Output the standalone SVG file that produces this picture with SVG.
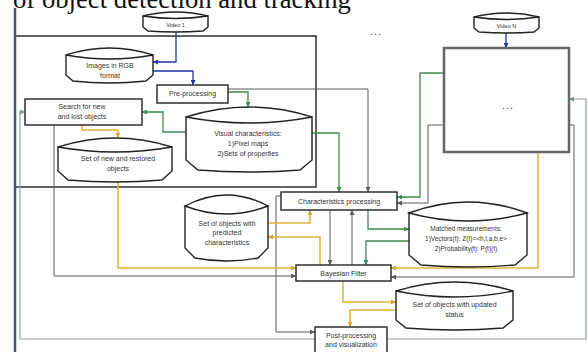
<svg xmlns="http://www.w3.org/2000/svg" width="588" height="352" viewBox="0 0 588 352">
<style>
.t{font-family:"Liberation Sans",Arial,sans-serif;font-size:7px;fill:#333;text-anchor:middle}
.s{font-size:5.5px}
.m{font-size:6.5px}
.dots{font-family:"Liberation Sans",Arial,sans-serif;font-size:11px;fill:#444;text-anchor:middle;letter-spacing:1px}
.shape{fill:#fff;stroke:#222;stroke-width:1.4}
.c{fill:none;stroke-width:1.3}
.blue{stroke:#2435a8}
.green{stroke:#3f8a50}
.gray{stroke:#5a5a5a;stroke-width:1}
.yellow{stroke:#e2b23c;stroke-width:1.6}
.light{stroke:#93a3ad;stroke-width:1.2}
</style>
<defs>
<marker id="ab" viewBox="0 0 10 10" refX="10" refY="5" markerWidth="5" markerHeight="5" markerUnits="userSpaceOnUse" orient="auto"><path d="M0,0L10,5L0,10z" fill="#2435a8"/></marker>
<marker id="ag" viewBox="0 0 10 10" refX="10" refY="5" markerWidth="5" markerHeight="5" markerUnits="userSpaceOnUse" orient="auto"><path d="M0,0L10,5L0,10z" fill="#3f8a50"/></marker>
<marker id="ak" viewBox="0 0 10 10" refX="10" refY="5" markerWidth="5" markerHeight="5" markerUnits="userSpaceOnUse" orient="auto"><path d="M0,0L10,5L0,10z" fill="#5a5a5a"/></marker>
<marker id="ay" viewBox="0 0 10 10" refX="10" refY="5" markerWidth="5" markerHeight="5" markerUnits="userSpaceOnUse" orient="auto"><path d="M0,0L10,5L0,10z" fill="#d9a52c"/></marker>
<marker id="al" viewBox="0 0 10 10" refX="10" refY="5" markerWidth="5" markerHeight="5" markerUnits="userSpaceOnUse" orient="auto"><path d="M0,0L10,5L0,10z" fill="#7d8f9b"/></marker>
</defs>
<rect width="588" height="352" fill="#fff"/>
<text x="13" y="8" font-family="Liberation Serif,serif" font-size="26.7" fill="#111">of object detection and tracking</text>

<g id="frame">
<rect x="15" y="36" width="301" height="151" fill="none" stroke="#222" stroke-width="1.4"/>
<line x1="15" y1="8" x2="15" y2="352" stroke="#3d5a75" stroke-width="2.5"/>
<text x="376" y="35" class="dots">...</text>
</g>

<g id="connectors">
<path class="c blue" d="M176,32V62H153" marker-end="url(#ab)"/>
<path class="c blue" d="M153,71H193V85" marker-end="url(#ab)"/>
<path class="c blue" d="M506,33V48" marker-end="url(#ab)"/>
<path class="c green" d="M228,92H248V107" marker-end="url(#ag)"/>
<path class="c green" d="M186,132H163V112H142" marker-end="url(#ag)"/>
<path class="c green" d="M312,133H339V192" marker-end="url(#ag)"/>
<path class="c green" d="M368,210V229H409" marker-end="url(#ag)"/>
<path class="c green" d="M409,241H366V265" marker-end="url(#ag)"/>
<path class="c green" d="M444,73H420V197H397" marker-end="url(#ag)"/>
<path class="c gray" d="M228,89H368V192" marker-end="url(#ak)"/>
<path class="c gray" d="M444,125H428V203H397" marker-end="url(#ak)"/>
<path class="c gray" d="M569,125H574V277H391" marker-end="url(#ak)"/>
<path class="c gray" d="M330,210V265" marker-end="url(#ak)"/>
<path class="c gray" d="M352,265V210" marker-end="url(#ak)"/>
<path class="c gray" d="M281,196H276V332H315" marker-end="url(#ak)"/>
<path class="c gray" d="M54,125V276H296" marker-end="url(#ak)"/>
<path class="c light" d="M315,339H20V112H25" marker-end="url(#al)"/>
<path class="c light" d="M387,339H586V99H569" marker-end="url(#al)"/>
<path class="c yellow" d="M82,125V130H118V138" marker-end="url(#ay)"/>
<path class="c yellow" d="M118,182V268H296" marker-end="url(#ay)"/>
<path class="c yellow" d="M268,223H310V210" marker-end="url(#ay)"/>
<path class="c yellow" d="M320,265V237H268" marker-end="url(#ay)"/>
<path class="c yellow" d="M538,152V268H391" marker-end="url(#ay)"/>
<path class="c yellow" d="M343,281V302H396" marker-end="url(#ay)"/>
<path class="c yellow" d="M396,310H350V327" marker-end="url(#ay)"/>
</g>

<g id="video1">
<path class="shape" d="M143,16V27L148,31Q175.5,33 203,31L208,27V16Z"/>
<path class="shape" d="M143,16Q175.5,8 208,16Q175.5,21 143,16Z"/>
<text class="t s" x="175.5" y="27">Video 1</text>
</g>

<g id="videoN">
<path class="shape" d="M474,17V28L479,32Q506.5,34 534,32L539,28V17Z"/>
<path class="shape" d="M474,17Q506.5,9 539,17Q506.5,22 474,17Z"/>
<text class="t s" x="506.5" y="28">Video N</text>
</g>

<g id="processN">
<rect x="444" y="48" width="125" height="104" fill="#fff" stroke="#666" stroke-width="2.5"/>
<text class="dots" x="508" y="109">...</text>
</g>

<g id="images">
<path class="shape" d="M66,55V75L73,81Q109.5,85 146,81L153,75V55Z"/>
<path class="shape" d="M66,55Q109.5,41 153,55Q109.5,63 66,55Z"/>
<text class="t" x="110" y="68">Images in RGB</text>
<text class="t" x="110" y="78">format</text>
</g>

<g id="preprocessing">
<rect class="shape" x="157" y="85" width="71" height="18"/>
<text class="t" x="192.5" y="96">Pre-processing</text>
</g>

<g id="search">
<rect class="shape" x="25" y="99" width="117" height="26"/>
<text class="t" x="82" y="109">Search for new</text>
<text class="t" x="82" y="119">and lost objects</text>
</g>

<g id="visual">
<path class="shape" d="M186,117V160L198,170Q249,174 300,170L312,160V117Z"/>
<path class="shape" d="M186,117Q249,97 312,117Q249,129 186,117Z"/>
<text class="t" x="248" y="136">Visual characteristics:</text>
<text class="t" x="248" y="146">1)Pixel maps</text>
<text class="t" x="248" y="156">2)Sets of properties</text>
</g>

<g id="newrestored">
<path class="shape" d="M58,147V171L68,180Q115,184 162,180L172,171V147Z"/>
<path class="shape" d="M58,147Q115,129 172,147Q115,157 58,147Z"/>
<text class="t" x="118" y="161">Set of new and restored</text>
<text class="t" x="118" y="171">objects</text>
</g>

<g id="charproc">
<rect class="shape" x="281" y="192" width="116" height="18"/>
<text class="t" x="339" y="203.5">Characteristics processing</text>
</g>

<g id="predicted">
<path class="shape" d="M185,206V248L195,258Q226.5,264 258,258L268,248V206Z"/>
<path class="shape" d="M185,206Q226.5,184 268,206Q226.5,222 185,206Z"/>
<text class="t" x="227" y="226">Set of objects with</text>
<text class="t" x="227" y="235">predicted</text>
<text class="t" x="227" y="245">characteristics</text>
</g>

<g id="matched">
<path class="shape" d="M409,213V255L421,265Q468,269 515,265L527,255V213Z"/>
<path class="shape" d="M409,213Q468,191 527,213Q468,229 409,213Z"/>
<text class="t m" x="466" y="231">Matched measurements:</text>
<text class="t m" x="466" y="241">1)Vectors(t): Z(t)=&lt;h,l,a,b,e&gt;</text>
<text class="t m" x="466" y="251">2)Probability(t): P(t)(t)</text>
</g>

<g id="bayesian">
<rect class="shape" x="296" y="265" width="95" height="16"/>
<text class="t" x="343.5" y="275.5">Bayesian Filter</text>
</g>

<g id="updated">
<path class="shape" d="M396,291V320L406,328Q454.5,332 503,328L513,320V291Z"/>
<path class="shape" d="M396,291Q454.5,273 513,291Q454.5,303 396,291Z"/>
<text class="t" x="454.5" y="307">Set of objects with updated</text>
<text class="t" x="454.5" y="317">status</text>
</g>

<g id="postprocessing">
<rect class="shape" x="315" y="327" width="72" height="27"/>
<text class="t" x="351" y="338">Post-processing</text>
<text class="t" x="351" y="347">and visualization</text>
</g>
</svg>
